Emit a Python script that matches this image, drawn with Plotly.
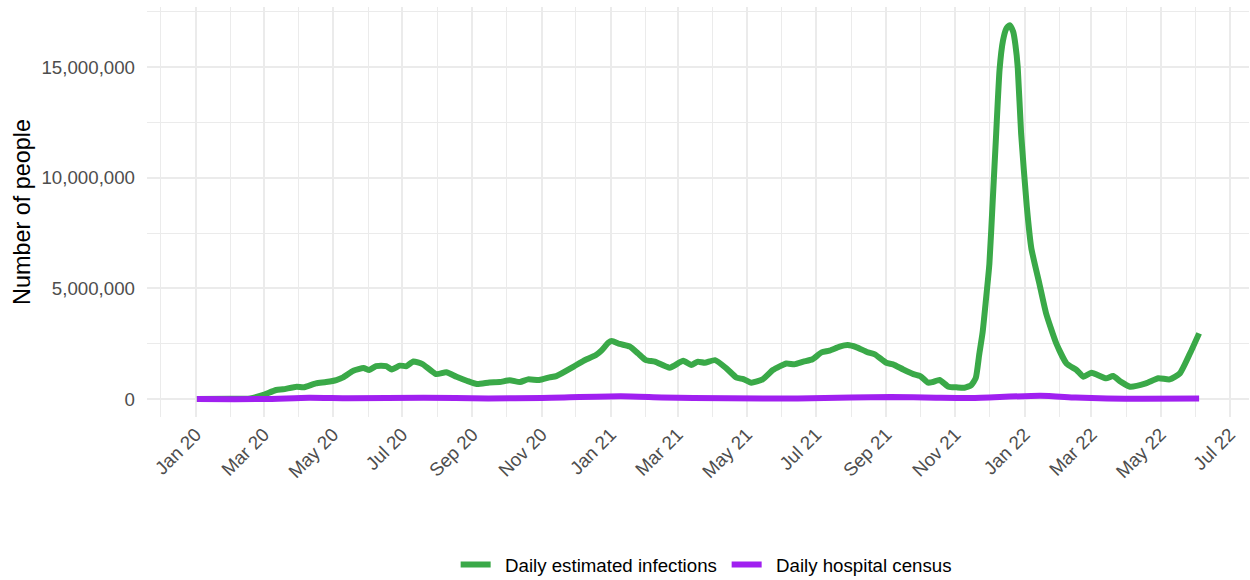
import pandas as pd
import numpy as np
import plotly.graph_objects as go

# Daily estimated infections (millions of people)
inf_dates = [
    "2020-01-02", "2020-01-31", "2020-02-18", "2020-02-29", "2020-03-12", "2020-03-18",
    "2020-03-30", "2020-04-05", "2020-04-16", "2020-04-25", "2020-05-04", "2020-05-10",
    "2020-05-19", "2020-05-28", "2020-06-02", "2020-06-08", "2020-06-17", "2020-06-22",
    "2020-06-29", "2020-07-05", "2020-07-11", "2020-07-19", "2020-07-31", "2020-08-09",
    "2020-08-18", "2020-08-27", "2020-09-05", "2020-09-16", "2020-09-25", "2020-10-04",
    "2020-10-13", "2020-10-20", "2020-10-30", "2020-11-08", "2020-11-14", "2020-11-29",
    "2020-12-08", "2020-12-19", "2020-12-24", "2020-12-30", "2021-01-02", "2021-01-09",
    "2021-01-18", "2021-01-25", "2021-02-01", "2021-02-09", "2021-02-22", "2021-03-06",
    "2021-03-13", "2021-03-19", "2021-03-25", "2021-04-03", "2021-04-13", "2021-04-22",
    "2021-04-28", "2021-05-05", "2021-05-15", "2021-05-24", "2021-06-05", "2021-06-12",
    "2021-06-20", "2021-06-28", "2021-07-06", "2021-07-13", "2021-07-22", "2021-07-29",
    "2021-08-06", "2021-08-15", "2021-08-22", "2021-09-01", "2021-09-07", "2021-09-16",
    "2021-09-25", "2021-10-01", "2021-10-08", "2021-10-12", "2021-10-18", "2021-10-26",
    "2021-11-02", "2021-11-09", "2021-11-15", "2021-11-19", "2021-11-22", "2021-11-25",
    "2021-11-28", "2021-12-01", "2021-12-04", "2021-12-07", "2021-12-10", "2021-12-13",
    "2021-12-16", "2021-12-19", "2021-12-22", "2021-12-24", "2021-12-26", "2021-12-29",
    "2022-01-03", "2022-01-07", "2022-01-14", "2022-01-20",
    "2022-01-29", "2022-02-07", "2022-02-16", "2022-02-22", "2022-03-01", "2022-03-14",
    "2022-03-20", "2022-03-27", "2022-04-04", "2022-04-18", "2022-04-29", "2022-05-09",
    "2022-05-18", "2022-05-27", "2022-06-04",
]
inf_values_m = [
    0.00, 0.01, 0.03, 0.18, 0.41, 0.44,
    0.56, 0.53, 0.71, 0.77, 0.86, 0.98,
    1.28, 1.40, 1.31, 1.49, 1.49, 1.34,
    1.51, 1.49, 1.70, 1.58, 1.13, 1.21,
    1.01, 0.83, 0.68, 0.75, 0.77, 0.85,
    0.77, 0.89, 0.86, 0.98, 1.04, 1.46,
    1.73, 1.99, 2.20, 2.55, 2.62, 2.49,
    2.37, 2.07, 1.76, 1.69, 1.42, 1.73,
    1.54, 1.69, 1.64, 1.76, 1.39, 0.97,
    0.90, 0.74, 0.89, 1.31, 1.61, 1.57,
    1.69, 1.80, 2.11, 2.19, 2.37, 2.44,
    2.34, 2.13, 2.02, 1.64, 1.57, 1.34,
    1.13, 1.04, 0.74, 0.77, 0.86, 0.56,
    0.53, 0.51, 0.63, 0.95, 2.00, 3.00,
    4.50, 6.10, 9.00, 12.00, 14.90, 16.20,
    16.75, 16.90, 16.60, 16.00, 15.00, 12.00,
    8.70, 6.82, 5.24, 3.88,
    2.52, 1.61, 1.31, 1.01, 1.19, 0.94,
    1.04, 0.78, 0.56, 0.71, 0.94, 0.89,
    1.16, 2.07, 2.97,
]

# Daily hospital census (millions of people)
hosp_dates = [
    "2020-01-02", "2020-03-01", "2020-04-10", "2020-05-15", "2020-07-20", "2020-09-15",
    "2020-11-01", "2021-01-10", "2021-02-15", "2021-03-15", "2021-05-15", "2021-06-15",
    "2021-08-01", "2021-09-05", "2021-10-15", "2021-11-15", "2022-01-15", "2022-02-15",
    "2022-03-15", "2022-04-15", "2022-06-04",
]
hosp_values_m = [
    0.000, 0.002, 0.060, 0.040, 0.060, 0.030,
    0.050, 0.125, 0.070, 0.045, 0.030, 0.025,
    0.070, 0.095, 0.060, 0.045, 0.150, 0.070,
    0.025, 0.017, 0.025,
]

series_names = ["Daily estimated infections", "Daily hospital census"]
series_colors = ["#3AA948", "#A020F0"]

inf_x = pd.to_datetime(inf_dates)
inf_y = np.array(inf_values_m) * 1e6
hosp_x = pd.to_datetime(hosp_dates)
hosp_y = np.array(hosp_values_m) * 1e6

fig = go.Figure()
fig.add_trace(go.Scatter(
    x=inf_x, y=inf_y, mode="lines", name="\u2002" + series_names[0],
    line=dict(color=series_colors[0], width=6, shape="spline", smoothing=0.5),
))
fig.add_trace(go.Scatter(
    x=hosp_x, y=hosp_y, mode="lines", name="\u2002" + series_names[1],
    line=dict(color=series_colors[1], width=6, shape="spline", smoothing=0.6),
))

FONT = "Liberation Sans, Arial, sans-serif"
GRID = "#EBEBEB"

fig.update_layout(
    width=1250, height=580,
    margin=dict(l=147, r=1, t=7, b=163),
    paper_bgcolor="white", plot_bgcolor="white",
    font=dict(family=FONT, size=18.7, color="#4D4D4D"),
    showlegend=True,
    legend=dict(
        orientation="h", x=0.526, xanchor="center", xref="paper",
        y=0.026, yanchor="middle", yref="container",
        font=dict(family=FONT, size=18.7, color="black"),
        bgcolor="rgba(0,0,0,0)", itemwidth=30,
        entrywidth=226, entrywidthmode="pixels",
    ),
)

fig.update_xaxes(
    type="date", automargin=False,
    range=["2019-11-19", "2022-07-18"],
    tick0="2020-01-01", dtick="M2", tickformat="%b %y",
    tickangle=-45,
    tickfont=dict(family=FONT, size=18.7, color="#4D4D4D"),
    showgrid=True, gridcolor=GRID, gridwidth=2.4,
    minor=dict(dtick="M1", tick0="2020-01-01", showgrid=True, gridcolor=GRID, gridwidth=1.2),
    showline=False, zeroline=False, ticks="", ticklen=0,
    ticklabelstandoff=2,
)
fig.update_yaxes(
    automargin=False,
    range=[-0.81e6, 17.72e6],
    tick0=0, dtick=5e6, tickformat=",d",
    tickfont=dict(family=FONT, size=18.7, color="#4D4D4D"),
    showgrid=True, gridcolor=GRID, gridwidth=2.4,
    minor=dict(dtick=2.5e6, tick0=0, showgrid=True, gridcolor=GRID, gridwidth=1.2),
    showline=False, zeroline=False, ticks="", ticklen=0,
    ticklabelstandoff=11,
    title=dict(text="Number of people", font=dict(family=FONT, size=23.4, color="black"), standoff=4),
)

fig.write_html("out.html", config={"displayModeBar": False},
               post_script="document.body.style.margin='0';")
